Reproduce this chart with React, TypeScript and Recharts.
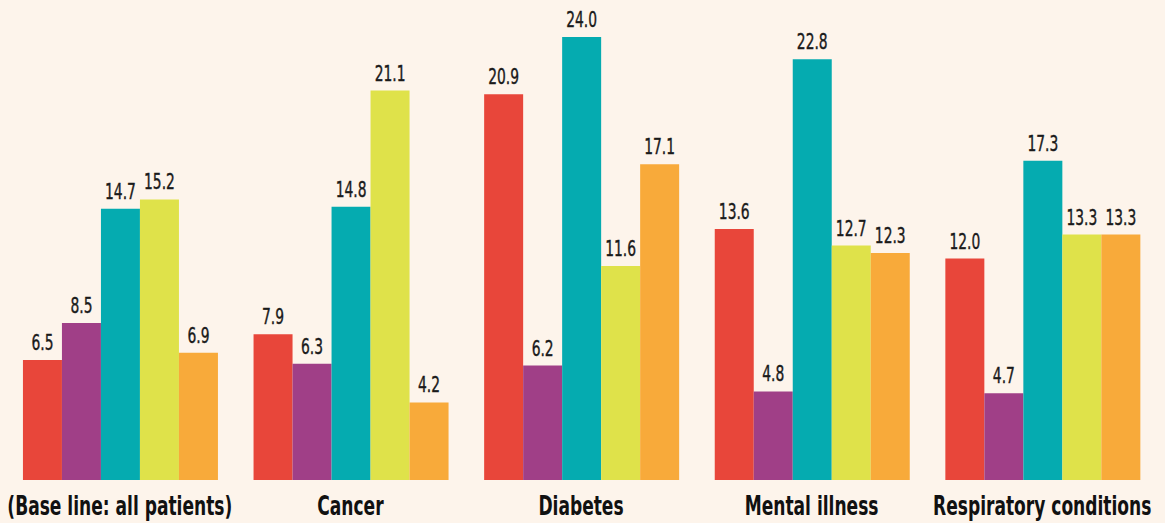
import { BarChart, Bar, XAxis, YAxis, LabelList } from "recharts";

const categories = [
  "(Base line: all patients)",
  "Cancer",
  "Diabetes",
  "Mental illness",
  "Respiratory conditions",
];
const redValues = [6.5, 7.9, 20.9, 13.6, 12.0];
const purpleValues = [8.5, 6.3, 6.2, 4.8, 4.7];
const tealValues = [14.7, 14.8, 24.0, 22.8, 17.3];
const yellowValues = [15.2, 21.1, 11.6, 12.7, 13.3];
const orangeValues = [6.9, 4.2, 17.1, 12.3, 13.3];

const data = categories.map((name, i) => ({
  name,
  s1: redValues[i],
  s2: purpleValues[i],
  s3: tealValues[i],
  s4: yellowValues[i],
  s5: orangeValues[i],
}));

const series = [
  { key: "s1", color: "#e8463a" },
  { key: "s2", color: "#a03f87" },
  { key: "s3", color: "#05abb0" },
  { key: "s4", color: "#dfe24a" },
  { key: "s5", color: "#f8aa3a" },
];

const FONT = "'DejaVu Sans Condensed', 'DejaVu Sans', sans-serif";

const CategoryTick = (props: any) => {
  const { x, y, payload } = props;
  return (
    <g transform={`translate(${x},${y}) scale(0.73,1)`}>
      <text x={0} y={0} dy={27} textAnchor="middle" fontFamily={FONT} fontWeight={700} fontSize={26} fill="#111">
        {payload.value}
      </text>
    </g>
  );
};

const ValueLabel = (props: any) => {
  const { x, y, width, value } = props;
  const cx = Number(x) + Number(width) / 2;
  return (
    <g transform={`translate(${cx},${Number(y) - 10}) scale(0.7,1)`}>
      <text x={0} y={0} textAnchor="middle" fontFamily={FONT} fontSize={22} fill="#1a1a1a" stroke="#1a1a1a" strokeWidth={0.4}>
        {Number(value).toFixed(1)}
      </text>
    </g>
  );
};

export default function App() {
  return (
    <div style={{ position: "absolute", left: 0, top: 0, width: 1165, height: 523, background: "#fdf4eb" }}>
      <BarChart
        width={1165}
        height={523}
        data={data}
        margin={{ top: 37, right: 7.5, left: 4.5, bottom: 0 }}
        barCategoryGap="8%"
        barGap={0}
      >
        <XAxis dataKey="name" height={43} axisLine={false} tickLine={false} tick={<CategoryTick />} interval={0} />
        <YAxis hide domain={[0, 24]} />
        {series.map((s) => (
          <Bar key={s.key} dataKey={s.key} fill={s.color} isAnimationActive={false}>
            <LabelList dataKey={s.key} content={<ValueLabel />} />
          </Bar>
        ))}
      </BarChart>
    </div>
  );
}
